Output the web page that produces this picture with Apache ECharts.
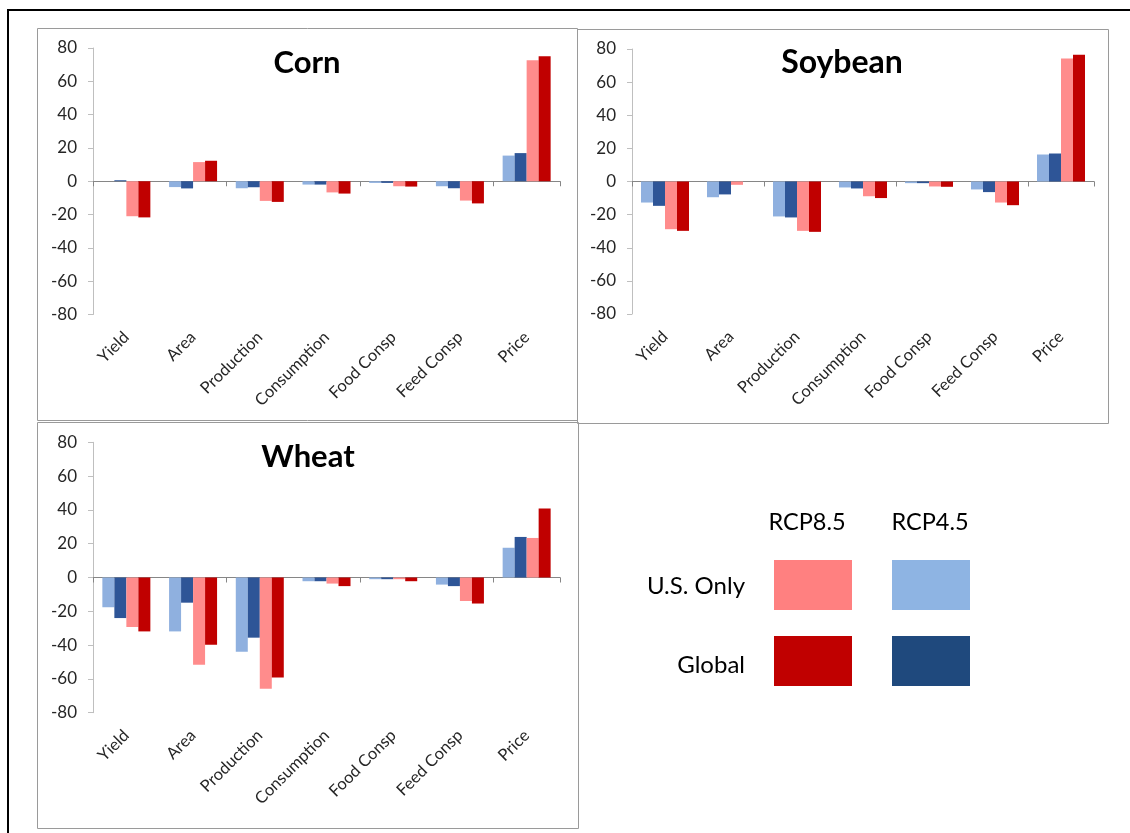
<!DOCTYPE html>
<html>
<head>
<meta charset="utf-8">
<script src="https://cdn.jsdelivr.net/npm/echarts@6/dist/echarts.min.js"></script>
<style>
html,body{margin:0;padding:0;background:#fff;}
#c{width:1130px;height:833px;}
</style>
</head>
<body>
<div id="c"></div>
<script>
const categories = ['Yield','Area','Production','Consumption','Food Consp','Feed Consp','Price'];
const yTicks = [-80,-60,-40,-20,0,20,40,60,80];
const panelTitles = ['Corn','Soybean','Wheat'];
const seriesNames = ['U.S. Only RCP4.5','Global RCP4.5','U.S. Only RCP8.5','Global RCP8.5'];

const cornUS45     = [0, -3.5, -4.2, -2, -1, -3, 15.4];
const cornGlobal45 = [0.6, -4.3, -3.6, -2, -1, -4.2, 16.9];
const cornUS85     = [-21, 11.5, -11.8, -6.7, -3, -11.6, 72.7];
const cornGlobal85 = [-21.7, 12.3, -12.4, -7.4, -3.2, -13.3, 75];

const soyUS45      = [-12.7, -9.5, -21.1, -3.6, -1, -4.8, 16.3];
const soyGlobal45  = [-14.7, -7.8, -21.7, -4.2, -1, -6.4, 16.9];
const soyUS85      = [-28.8, -2, -29.8, -8.9, -3, -12.7, 74.2];
const soyGlobal85  = [-29.8, 0, -30.4, -10, -3.2, -14.3, 76.5];

const wheatUS45     = [-17.6, -31.9, -44, -2.2, -1, -4.2, 17.6];
const wheatGlobal45 = [-24, -14.9, -35.6, -2.2, -1, -5.1, 24];
const wheatUS85     = [-29.3, -51.7, -65.9, -3.6, -1, -13.9, 23.4];
const wheatGlobal85 = [-31.9, -39.8, -59.2, -5.1, -2.2, -15.4, 40.8];

const barColors = ['#8FB0DF', '#2E5597', '#FF8C8C', '#C00000'];
const legendColors = {us85:'#FF8080', us45:'#8EB4E3', gl85:'#C00000', gl45:'#1F497D'};

const FONT = 'Lato, "Open Sans", sans-serif';

const panelData = [
  [cornUS45, cornGlobal45, cornUS85, cornGlobal85],
  [soyUS45, soyGlobal45, soyUS85, soyGlobal85],
  [wheatUS45, wheatGlobal45, wheatUS85, wheatGlobal85]
];

const grids = [
  {left: 93, right: 570, top: 48, bottom: 518.5},
  {left: 632, right: 36, top: 49, bottom: 519},
  {left: 93, right: 570, top: 442.3, bottom: 120.3}
];

const xAxes = [], yAxes = [], series = [];
grids.forEach((g, i) => {
  xAxes.push({
    type: 'category', gridIndex: i, data: categories, position: 'bottom',
    axisLine: {show: false, onZero: false}, axisTick: {show: false},
    axisLabel: {rotate: 45, margin: 20, fontSize: 16.5, color: '#262626', fontFamily: FONT, interval: 0}
  });
  xAxes.push({
    type: 'category', gridIndex: i, data: categories, position: 'top',
    axisLine: {show: true, onZero: true, lineStyle: {color: '#868686', width: 1}},
    axisTick: {show: true, inside: true, length: 5, lineStyle: {color: '#868686'}},
    axisLabel: {show: false}
  });
  yAxes.push({
    type: 'value', gridIndex: i, min: -80, max: 80, interval: 20,
    axisLine: {show: true, lineStyle: {color: '#BFBFBF'}},
    axisTick: {show: true, length: 5, lineStyle: {color: '#BFBFBF'}},
    splitLine: {show: false},
    axisLabel: {fontSize: 17, color: '#262626', margin: 16, fontFamily: FONT}
  });
  panelData[i].forEach((arr, k) => {
    series.push({
      name: seriesNames[k], type: 'bar', xAxisIndex: i * 2, yAxisIndex: i,
      data: arr, barWidth: 12, barGap: '0%',
      itemStyle: {color: barColors[k]}, animation: false
    });
  });
});

const graphics = [
  {type: 'rect', shape: {x: 8, y: 10, width: 1200, height: 900}, style: {fill: 'none', stroke: '#000', lineWidth: 2}, silent: true},
  {type: 'rect', shape: {x: 37.5, y: 28.5, width: 540, height: 392}, style: {fill: 'none', stroke: '#9A9A9A', lineWidth: 1}, silent: true},
  {type: 'rect', shape: {x: 577.5, y: 29.5, width: 531, height: 394}, style: {fill: 'none', stroke: '#9A9A9A', lineWidth: 1}, silent: true},
  {type: 'rect', shape: {x: 37.5, y: 422.5, width: 541, height: 406}, style: {fill: 'none', stroke: '#9A9A9A', lineWidth: 1}, silent: true},
  {type: 'text', x: 307, y: 63, style: {text: panelTitles[0], font: 'bold 31px ' + FONT, fill: '#000', align: 'center', verticalAlign: 'middle'}},
  {type: 'text', x: 842, y: 63, style: {text: panelTitles[1], font: 'bold 32px ' + FONT, fill: '#000', align: 'center', verticalAlign: 'middle'}},
  {type: 'text', x: 308, y: 457, style: {text: panelTitles[2], font: 'bold 31px ' + FONT, fill: '#000', align: 'center', verticalAlign: 'middle'}},
  {type: 'text', x: 807, y: 522, style: {text: 'RCP8.5', font: '23.5px ' + FONT, fill: '#000', align: 'center', verticalAlign: 'middle'}},
  {type: 'text', x: 930, y: 522, style: {text: 'RCP4.5', font: '23.5px ' + FONT, fill: '#000', align: 'center', verticalAlign: 'middle'}},
  {type: 'text', x: 745, y: 586, style: {text: 'U.S. Only', font: '24px ' + FONT, fill: '#000', align: 'right', verticalAlign: 'middle'}},
  {type: 'text', x: 745, y: 665, style: {text: 'Global', font: '24px ' + FONT, fill: '#000', align: 'right', verticalAlign: 'middle'}},
  {type: 'rect', shape: {x: 774, y: 560, width: 78, height: 50}, style: {fill: legendColors.us85}},
  {type: 'rect', shape: {x: 892, y: 560, width: 78, height: 50}, style: {fill: legendColors.us45}},
  {type: 'rect', shape: {x: 774, y: 636, width: 78, height: 50}, style: {fill: legendColors.gl85}},
  {type: 'rect', shape: {x: 892, y: 636, width: 78, height: 50}, style: {fill: legendColors.gl45}}
];

const chart = echarts.init(document.getElementById('c'), null, {renderer: 'canvas'});
chart.setOption({
  backgroundColor: '#fff',
  animation: false,
  grid: grids,
  xAxis: xAxes,
  yAxis: yAxes,
  series: series,
  graphic: graphics
});
</script>
</body>
</html>
